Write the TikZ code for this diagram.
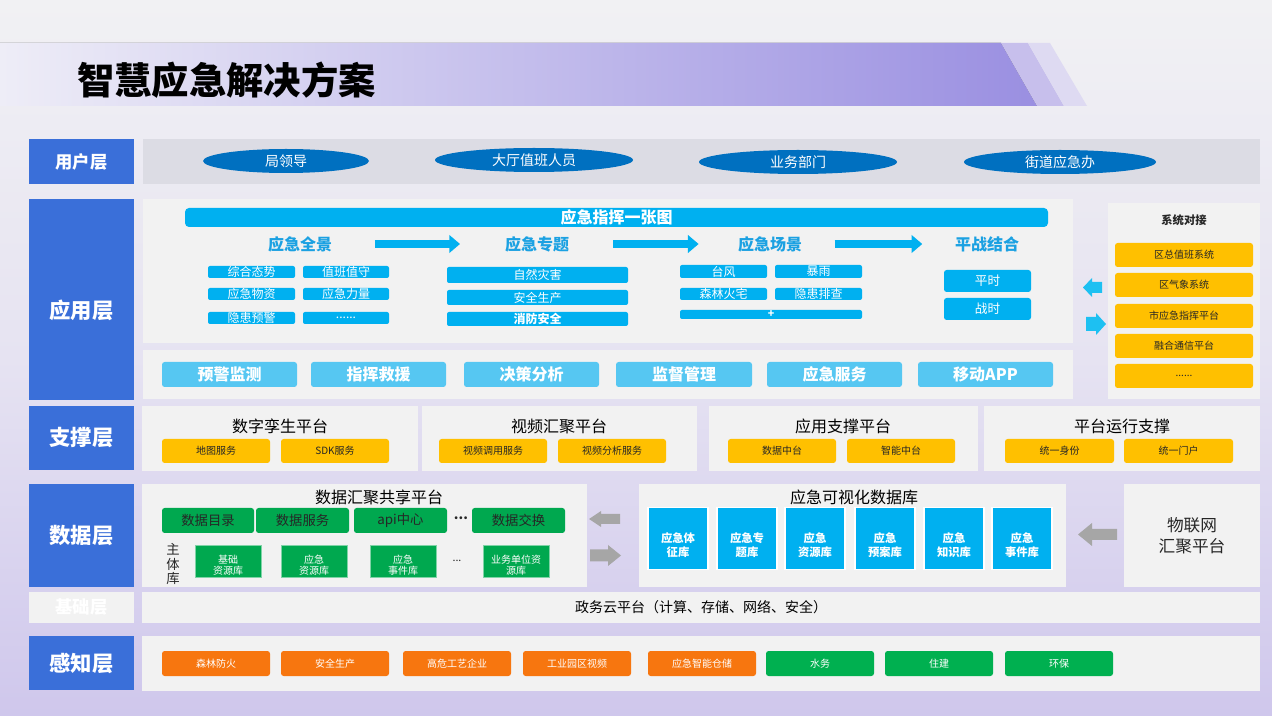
\documentclass[tikz,border=0pt]{standalone}
\usepackage{fontspec}
\setmainfont{Noto Sans CJK SC}
\usetikzlibrary{shapes.geometric,arrows.meta}
\definecolor{bgTop}{HTML}{F1F1F3}
\definecolor{bgMid}{HTML}{E6E3F2}
\definecolor{bgBot}{HTML}{CFC7EC}
\definecolor{bnL}{HTML}{EEEDF7}
\definecolor{bnR}{HTML}{9A8FE1}
\definecolor{bnS1}{HTML}{C7BFEC}
\definecolor{bnS2}{HTML}{DEDAF2}
\definecolor{layerC}{HTML}{3A6FD9}
\definecolor{paneC}{HTML}{F2F2F2}
\definecolor{userC}{HTML}{DCDCE4}
\definecolor{ellC}{HTML}{0070C0}
\definecolor{cyanC}{HTML}{00B0F0}
\definecolor{headC}{HTML}{1BA1E2}
\definecolor{btnC}{HTML}{56C7F2}
\definecolor{yelC}{HTML}{FFC000}
\definecolor{grnC}{HTML}{00A84F}
\definecolor{grnP}{HTML}{00B050}
\definecolor{oraC}{HTML}{F7760F}
\definecolor{grayA}{HTML}{A6A6A6}
\definecolor{sideA}{HTML}{1DC0F2}
\definecolor{txtC}{HTML}{262626}
\tikzset{
  R/.style args={#1,#2,#3,#4}{at={({(#1+#3)/2},{(#2+#4)/2})}, minimum width={(#3-#1)*0.75pt}, minimum height={(#4-#2)*0.75pt}},
  pane/.style={fill=paneC, inner sep=0pt},
  layer/.style={fill=layerC, text=white, inner sep=0pt, font=\fontsize{16}{16}\selectfont\bfseries},
  ubox/.style={ellipse, fill=ellC, text=white, inner sep=0pt, minimum height=18pt, font=\fontsize{10.5}{10.5}\selectfont},
  headtxt/.style={text=headC, font=\fontsize{12}{12}\selectfont\bfseries},
  item/.style={fill=cyanC, rounded corners=1.5pt, inner sep=0pt, text=white, font=\fontsize{9}{9}\selectfont},
  btn/.style={fill=btnC, rounded corners=2pt, inner sep=0pt, text=white, font=\fontsize{12}{12}\selectfont\bfseries},
  ybox/.style={fill=yelC, rounded corners=2pt, inner sep=0pt, text=txtC, font=\fontsize{7.5}{7.5}\selectfont},
  ptitle/.style={text=black, font=\fontsize{12}{12}\selectfont},
  gbox/.style={fill=grnC, rounded corners=2pt, inner sep=0pt, text=txtC, font=\fontsize{10}{10}\selectfont},
  cyltxt/.style={rectangle, fill=none, draw=none, minimum width=0pt, minimum height=0pt, text=white, align=center, inner sep=0pt},
  gcyl/.style={cylinder, shape border rotate=90, aspect=0.4, fill=grnC, draw=grnC!50!white, line width=0.6pt, minimum width=49.5pt, minimum height=24pt, inner sep=0pt,
    label={[cyltxt, yshift=-2.6pt, font=\fontsize{7.5}{8.5}\selectfont]center:#1}, node contents={\rule[-1pt]{0pt}{16pt}}},
  bcyl/.style={cylinder, shape border rotate=90, aspect=0.65, fill=cyanC, draw=white, line width=1pt, minimum width=45pt, minimum height=46.5pt, inner sep=0pt,
    label={[cyltxt, yshift=-4.5pt, font=\fontsize{8.5}{10.5}\selectfont\bfseries]center:#1}, node contents={\rule[-1pt]{0pt}{19pt}}},
  pbox/.style={rounded corners=2pt, inner sep=0pt, text=white, font=\fontsize{7.5}{7.5}\selectfont},
  bigarrow/.style={draw=cyanC, line width=6.5pt, -{Triangle[length=8pt, width=13pt]}}
}
\begin{document}
\begin{tikzpicture}[x=0.75pt,y=-0.75pt]
\useasboundingbox (0,0) rectangle (1272,716);
\fill[top color=bgTop, bottom color=bgBot, middle color=bgMid] (0,0) rectangle (1272,716);
% title banner
\fill[left color=bnL, right color=bnR] (0,43) -- (1001,43) -- (1037,106) -- (0,106) -- cycle;
\fill[bnS1] (1001,43) -- (1028,43) -- (1064,106) -- (1037,106) -- cycle;
\fill[bnS2] (1028,43) -- (1050,43) -- (1087,106) -- (1064,106) -- cycle;
\node[anchor=west, inner sep=0pt, font=\fontsize{28}{28}\selectfont\bfseries] (title) at (77,80) {智慧应急解决方案};

% layer labels
\node[layer, R={29,139,134,184}, font=\fontsize{13}{13}\selectfont\bfseries] (Luser) {用户层};
\node[layer, R={29,199,134,400}, text height=30.5pt, text depth=2pt] (Lapp) {应用层};
\node[layer, R={29,406,134,470}] (Lsup) {支撑层};
\node[layer, R={29,484,134,587}] (Ldata) {数据层};
\node[layer, fill=paneC, R={29,592,134,623}, font=\fontsize{13}{13}\selectfont\bfseries] (Lbase) {基础层};
\node[layer, R={29,636,134,690}] (Lsense) {感知层};

% user layer
\node[pane, fill=userC, R={143,139,1260,184}] (Puser) {};
\node[ubox, minimum width=124.5pt] (u1) at (286,161) {局领导};
\node[ubox, minimum width=148.5pt] (u2) at (534,160) {大厅值班人员};
\node[ubox, minimum width=148.5pt] (u3) at (798,162) {业务部门};
\node[ubox, minimum width=144pt] (u4) at (1060,162) {街道应急办};

% application layer
\node[pane, R={143,199,1073,343}] (Papp) {};
\node[pane, R={143,350,1073,399}] (Pbtn) {};
\node[fill=cyanC, rounded corners=3pt, inner sep=0pt, text=white, font=\fontsize{12}{12}\selectfont\bfseries, R={185,208,1048,227}] (banner) {应急指挥一张图};
\node[headtxt] (h1) at (300,244) {应急全景};
\node[headtxt] (h2) at (537,244) {应急专题};
\node[headtxt] (h3) at (770,244) {应急场景};
\node[headtxt] (h4) at (987,244) {平战结合};
\draw[bigarrow, shorten <=28.7pt, shorten >=30.2pt] (h1) -- (h2);
\draw[bigarrow, shorten <=29.5pt, shorten >=26pt] (h2) -- (h3);
\draw[bigarrow, shorten <=21pt, shorten >=21pt] (h3) -- (h4);
\node[item, R={208,266,295,278}] (a1) {综合态势};
\node[item, R={303,266,389,278}] (a2) {值班值守};
\node[item, R={208,288,295,300}] (a3) {应急物资};
\node[item, R={303,288,389,300}] (a4) {应急力量};
\node[item, R={208,312,295,324}] (a5) {隐患预警};
\node[item, R={303,312,389,324}] (a6) {......};
\node[item, R={447,267,628,283}] (b1) {自然灾害};
\node[item, R={447,290,628,305}] (b2) {安全生产};
\node[item, R={447,312,628,326}, font=\fontsize{9}{9}\selectfont\bfseries] (b3) {消防安全};
\node[item, R={680,265,767,278}] (c1) {台风};
\node[item, R={775,265,862,278}] (c2) {暴雨};
\node[item, R={680,288,767,300}] (c3) {森林火宅};
\node[item, R={775,288,862,300}] (c4) {隐患排查};
\node[item, R={680,310,862,319}, font=\fontsize{8}{8}\selectfont\bfseries] (c5) {+};
\node[item, rounded corners=2pt, R={944,270,1031,292}, font=\fontsize{9.5}{9.5}\selectfont] (d1) {平时};
\node[item, rounded corners=2pt, R={944,298,1031,320}, font=\fontsize{9.5}{9.5}\selectfont] (d2) {战时};
\node[btn, R={162,362,297,387}] (k1) {预警监测};
\node[btn, R={311,362,446,387}] (k2) {指挥救援};
\node[btn, R={464,362,599,387}] (k3) {决策分析};
\node[btn, R={616,362,752,387}] (k4) {监督管理};
\node[btn, R={767,362,902,387}] (k5) {应急服务};
\node[btn, R={918,362,1053,387}] (k6) {移动APP};

% system docking
\node[pane, R={1108,203,1260,399}] (Psys) {};
\node[font=\fontsize{8.5}{8.5}\selectfont\bfseries, text=txtC] (systitle) at (1184,220) {系统对接};
\node[ybox, R={1115,243,1253,267}] (s1) {区总值班系统};
\node[ybox, R={1115,273,1253,297}] (s2) {区气象系统};
\node[ybox, R={1115,304,1253,328}] (s3) {市应急指挥平台};
\node[ybox, R={1115,334,1253,358}] (s4) {融合通信平台};
\node[ybox, R={1115,364,1253,388}] (s5) {......};
% side arrows
\fill[sideA] (1083,287.5) -- (1092,278) -- (1092,282) -- (1102,282) -- (1102,293) -- (1092,293) -- (1092,297) -- cycle;
\fill[sideA] (1106,324) -- (1096,313) -- (1096,317) -- (1086,317) -- (1086,331) -- (1096,331) -- (1096,335) -- cycle;

% support layer
\node[pane, R={142,406,418,471}] (P1) {};
\node[pane, R={422,406,697,471}] (P2) {};
\node[pane, R={709,406,978,471}] (P3) {};
\node[pane, R={984,406,1260,471}] (P4) {};
\node[ptitle] (t1) at (280,426) {数字孪生平台};
\node[ptitle] (t2) at (559,426) {视频汇聚平台};
\node[ptitle] (t3) at (843,426) {应用支撑平台};
\node[ptitle] (t4) at (1122,426) {平台运行支撑};
\node[ybox, R={162,439,270,463}] (y1) {地图服务};
\node[ybox, R={281,439,389,463}] (y2) {SDK服务};
\node[ybox, R={439,439,547,463}] (y3) {视频调用服务};
\node[ybox, R={558,439,666,463}] (y4) {视频分析服务};
\node[ybox, R={728,439,836,463}] (y5) {数据中台};
\node[ybox, R={847,439,955,463}] (y6) {智能中台};
\node[ybox, R={1005,439,1114,463}] (y7) {统一身份};
\node[ybox, R={1124,439,1233,463}] (y8) {统一门户};

% data layer
\node[pane, R={142,484,587,587}] (D1) {};
\node[pane, R={639,484,1066,587}] (D2) {};
\node[pane, R={1124,484,1260,587}, align=center, font=\fontsize{12.5}{15.5}\selectfont, text=txtC] (D3) {物联网\\汇聚平台};
\node[ptitle] (dt1) at (379,497) {数据汇聚共享平台};
\node[ptitle] (dt2) at (854,497) {应急可视化数据库};
\node[gbox, R={162,508,254,533}] (g1) {数据目录};
\node[gbox, R={256,508,349,533}] (g2) {数据服务};
\node[gbox, R={354,508,447,533}] (g3) {api中心};
\node[font=\fontsize{10}{10}\selectfont\bfseries, text=txtC, inner sep=0pt] (gdots) at (461,518) {...};
\node[gbox, R={472,508,565,533}] (g4) {数据交换};
\node[align=center, font=\fontsize{10}{11}\selectfont, text=txtC] (zt) at (173,564) {主\\体\\库};
\node[name=gc1, at={(228,562)}, gcyl={基础\\资源库}];
\node[name=gc2, at={(314,562)}, gcyl={应急\\资源库}];
\node[name=gc3, at={(403,562)}, gcyl={应急\\事件库}];
\node[font=\fontsize{8}{8}\selectfont, text=txtC, inner sep=0pt] (cdots) at (457,561) {...};
\node[name=gc4, at={(516,562)}, gcyl={业务单位资\\源库}];
\node[name=bc1, at={(678,539)}, bcyl={应急体\\征库}];
\node[name=bc2, at={(747,539)}, bcyl={应急专\\题库}];
\node[name=bc3, at={(815,539)}, bcyl={应急\\资源库}];
\node[name=bc4, at={(885,539)}, bcyl={应急\\预案库}];
\node[name=bc5, at={(954,539)}, bcyl={应急\\知识库}];
\node[name=bc6, at={(1022,539)}, bcyl={应急\\事件库}];
% gray arrows
\fill[grayA] (589,519) -- (601,511) -- (601,514) -- (620,514) -- (620,524) -- (601,524) -- (601,527) -- cycle;
\fill[grayA] (621,555.5) -- (608,545) -- (608,549.5) -- (590,549.5) -- (590,561.5) -- (608,561.5) -- (608,566) -- cycle;
\fill[grayA] (1078,534.5) -- (1092,523) -- (1092,529) -- (1117,529) -- (1117,540) -- (1092,540) -- (1092,546) -- cycle;

% base layer
\node[pane, R={142,592,1260,623}, font=\fontsize{10.5}{10.5}\selectfont, text=black] (B1) {政务云平台（计算、存储、网络、安全）};

% perception layer
\node[pane, R={142,636,1260,691}] (S1) {};
\node[pbox, fill=oraC, R={162,651,270,676}] (p1) {森林防火};
\node[pbox, fill=oraC, R={281,651,389,676}] (p2) {安全生产};
\node[pbox, fill=oraC, R={403,651,511,676}] (p3) {高危工艺企业};
\node[pbox, fill=oraC, R={523,651,631,676}] (p4) {工业园区视频};
\node[pbox, fill=oraC, R={648,651,756,676}] (p5) {应急智能仓储};
\node[pbox, fill=grnP, R={766,651,874,676}] (p6) {水务};
\node[pbox, fill=grnP, R={885,651,993,676}] (p7) {住建};
\node[pbox, fill=grnP, R={1005,651,1113,676}] (p8) {环保};
\end{tikzpicture}
\end{document}
